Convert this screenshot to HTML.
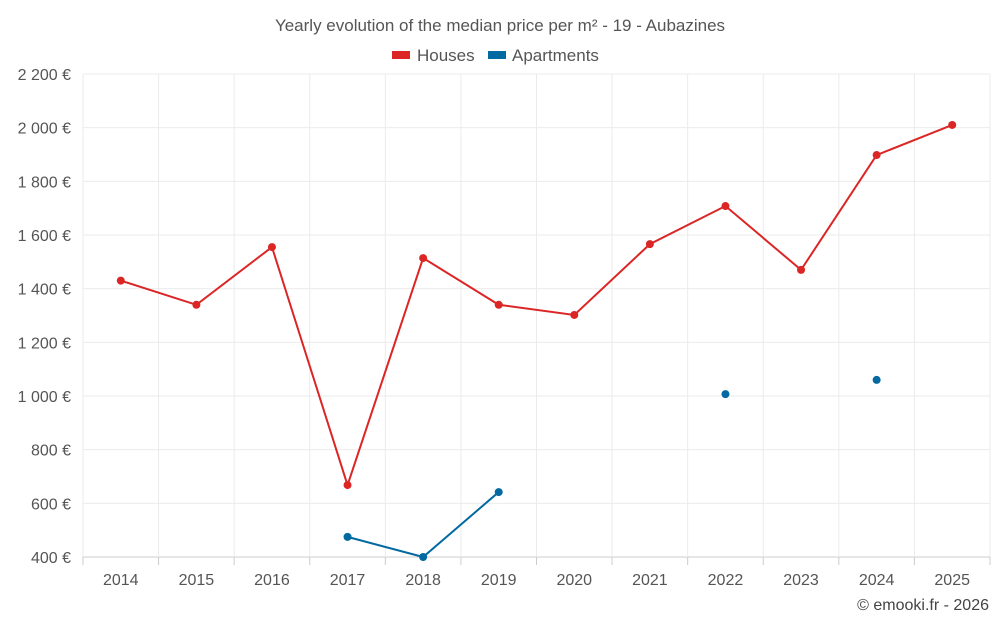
<!DOCTYPE html>
<html><head><meta charset="utf-8"><style>
body{margin:0;background:#fff;font-family:"Liberation Sans",sans-serif}
text{font-family:"Liberation Sans",sans-serif}
</style></head><body>
<svg id="c" width="1000" height="625"></svg>
<script>
const years=["2014","2015","2016","2017","2018","2019","2020","2021","2022","2023","2024","2025"];
const houses=[1430,1340,1555,668,1514,1340,1302,1566,1708,1470,1898,2010];
const apartments=[null,null,null,475,400,642,null,null,1007,null,1060,null];
const yTicks=[400,600,800,1000,1200,1400,1600,1800,2000,2200];
const tickLabels=["400 €","600 €","800 €","1 000 €","1 200 €","1 400 €","1 600 €","1 800 €","2 000 €","2 200 €"];
const svg=document.getElementById('c');const NS='http://www.w3.org/2000/svg';
const L=83,R=990,T=74,B=557;
const bw=(R-L)/years.length;
const x=i=>L+bw*(i+0.5);
const y=v=>B-(v-400)/(2200-400)*(B-T);
function el(t,a,p){const e=document.createElementNS(NS,t);for(const k in a)e.setAttribute(k,a[k]);(p||svg).appendChild(e);return e;}
let t=el('text',{x:500,y:31,'text-anchor':'middle','font-size':17,fill:'#555'});t.textContent='Yearly evolution of the median price per m² - 19 - Aubazines';


// legend
let g=el('g',{});


el('rect',{x:392,y:51,width:18,height:8,fill:'#dc2626'},g);
t=el('text',{x:417,y:61,'font-size':17,fill:'#555'},g);t.textContent='Houses';
g=el('g',{});


el('rect',{x:488,y:51,width:18,height:8,fill:'#0369a1'},g);
t=el('text',{x:512,y:61,'font-size':17,fill:'#555'},g);t.textContent='Apartments';
// grid
yTicks.forEach((v,i)=>{
 const ln=el('line',{x1:L,x2:R,y1:y(v),y2:y(v),stroke:i==0?'#ccc':'#ebebeb'});
 
 
 const tx=el('text',{x:71,y:y(v)+6,'text-anchor':'end','font-size':16,fill:'#555'});tx.textContent=tickLabels[i];
 
 
});
for(let i=0;i<=years.length;i++){
 const ln=el('line',{x1:L+bw*i,x2:L+bw*i,y1:T,y2:B+(i==0||i==years.length?0:0),stroke:'#ebebeb'});
 
 
 const tk=el('line',{x1:L+bw*i,x2:L+bw*i,y1:B,y2:B+8,stroke:'#ccc'});
 
 
}
years.forEach((yr,i)=>{
 const tx=el('text',{x:x(i),y:585,'text-anchor':'middle','font-size':16,fill:'#555'});tx.textContent=yr;
 
 
});
function series(vals,color,name){
 let seg=[];
 const flush=()=>{if(seg.length>1){const p=el('polyline',{points:seg.join(' '),fill:'none',stroke:color,'stroke-width':2});
  
  }seg=[];};
 vals.forEach((v,i)=>{if(v==null){flush();return;}seg.push(x(i)+','+y(v));});flush();
 vals.forEach((v,i)=>{if(v==null)return;const c=el('circle',{cx:x(i),cy:y(v),r:4,fill:color});
  
  });
}
series(houses,'#dc2626','houses');
series(apartments,'#0369a1','apartments');
t=el('text',{x:989,y:610,'text-anchor':'end','font-size':16,fill:'#444'});t.textContent='© emooki.fr - 2026';


</script>
</body></html>
